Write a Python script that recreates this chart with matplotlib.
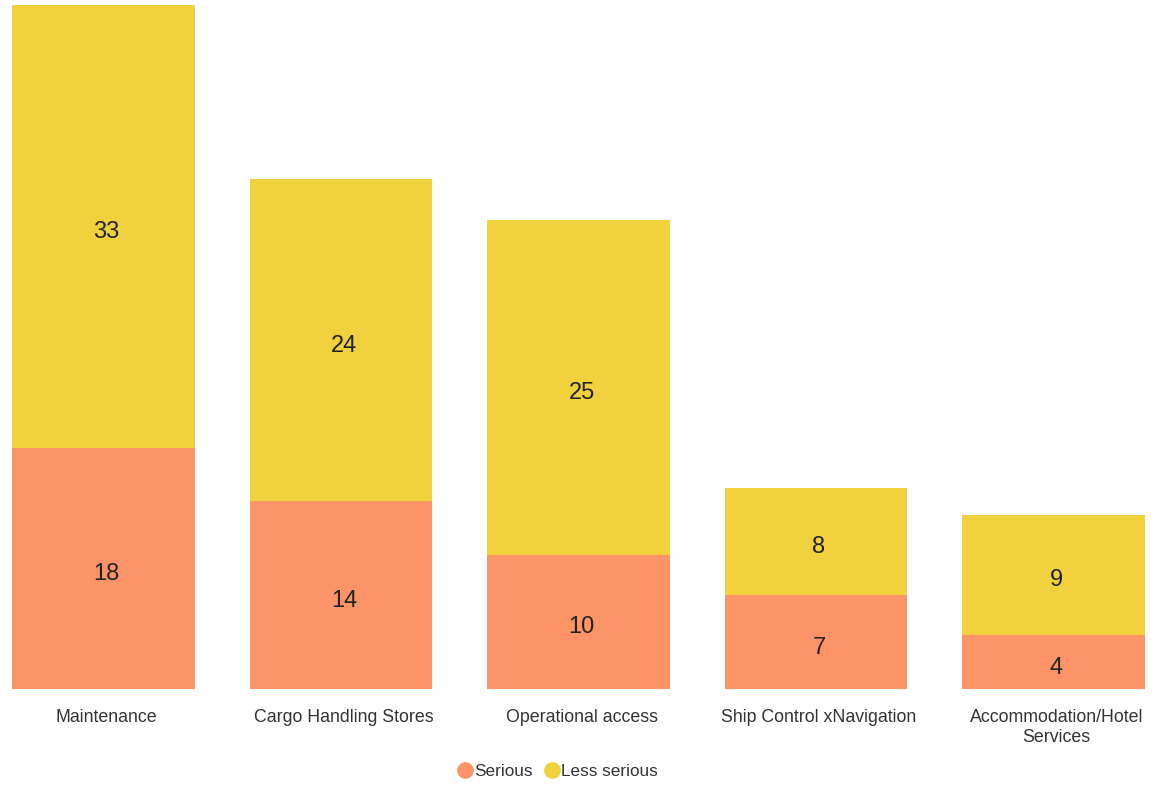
import matplotlib.pyplot as plt
import matplotlib.transforms as transforms
from matplotlib.lines import Line2D

categories = ["Maintenance", "Cargo Handling Stores", "Operational access",
              "Ship Control xNavigation", "Accommodation/Hotel\nServices"]
serious = [18, 14, 10, 7, 4]
lessSerious = [33, 24, 25, 8, 9]

seriousColor = "#FC9467"
lessSeriousColor = "#F2D13F"

plt.rcParams["font.family"] = ["Liberation Sans", "DejaVu Sans"]

fig = plt.figure(figsize=(11.57, 7.85), dpi=100)
ax = fig.add_axes([0, 96 / 785, 1, 684 / 785])

x = list(range(len(categories)))
barWidth = 0.77

ax.bar(x, serious, width=barWidth, color=seriousColor)
ax.bar(x, lessSerious, width=barWidth, bottom=serious, color=lessSeriousColor)

# Text sits a few pixels right of the bar centres
textShift = transforms.ScaledTranslation(0.03, -0.03, fig.dpi_scale_trans)
labelShift = transforms.ScaledTranslation(0.03, 0, fig.dpi_scale_trans)

# Value labels in the middle of each segment
for i in x:
    ax.text(i, serious[i] / 2, str(serious[i]), ha="center",
            va="center_baseline", fontsize=17, color="#222222",
            transform=ax.transData + textShift)
    ax.text(i, serious[i] + lessSerious[i] / 2, str(lessSerious[i]),
            ha="center", va="center_baseline", fontsize=17, color="#222222",
            transform=ax.transData + textShift)

ax.set_xlim(-0.436, len(categories) - 1 + 0.436)
ax.set_ylim(0, serious[0] + lessSerious[0])
ax.set_xticks(x)
ax.set_xticklabels(categories, fontsize=12.8, color="#333333", linespacing=1.25)
ax.tick_params(axis="x", length=0, pad=14.5)
for label in ax.get_xticklabels():
    label.set_transform(label.get_transform() + labelShift)
ax.set_yticks([])
for spine in ax.spines.values():
    spine.set_visible(False)

handles = [
    Line2D([], [], ls="none", marker="o", markersize=11,
           color=seriousColor, label="Serious"),
    Line2D([], [], ls="none", marker="o", markersize=11,
           color=lessSeriousColor, label="Less serious"),
]
fig.legend(handles=handles, loc="center", bbox_to_anchor=(557 / 1157, 1 - 771 / 785),
           ncol=2, frameon=False, fontsize=12.3, handletextpad=0.05,
           columnspacing=0.6, handlelength=1.0, labelcolor="#333333")

fig.savefig("out.png", dpi=100)
